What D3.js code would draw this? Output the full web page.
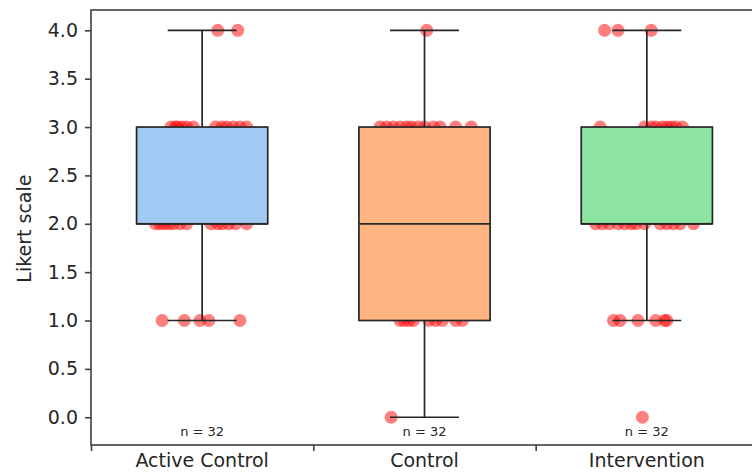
<!DOCTYPE html>
<html>
<head>
<meta charset="utf-8">
<script src="https://cdnjs.cloudflare.com/ajax/libs/d3/7.8.5/d3.min.js"></script>
<style>
  body { margin: 0; background: #fff; }
  svg text { font-family: "DejaVu Sans", sans-serif; fill: #262626; }
</style>
</head>
<body>
<div id="chart"></div>
<script>
// categories and box colours
var groups = ["Active Control", "Control", "Intervention"];
var boxColors = ["#a1c9f4", "#ffb482", "#8de5a1"];

// Likert responses per group (n = 32 each)
var activeControl = [4, 4,
  3, 3, 3, 3, 3, 3, 3, 3, 3, 3, 3, 3,
  2, 2, 2, 2, 2, 2, 2, 2, 2, 2, 2, 2, 2,
  1, 1, 1, 1, 1];
var control = [4,
  3, 3, 3, 3, 3, 3, 3, 3, 3, 3, 3, 3,
  2, 2, 2, 2, 2, 2, 2, 2, 2,
  1, 1, 1, 1, 1, 1, 1, 1, 1,
  0];
var intervention = [4, 4, 4,
  3, 3, 3, 3, 3, 3, 3, 3, 3,
  2, 2, 2, 2, 2, 2, 2, 2, 2, 2, 2, 2, 2,
  1, 1, 1, 1, 1, 1,
  0];

// horizontal strip jitter (in category units)
var activeJitter = [0.07, 0.16,
  -0.14, -0.12, -0.11, -0.09, -0.07, -0.04, 0.06, 0.09, 0.11, 0.14, 0.17, 0.20,
  -0.21, -0.19, -0.17, -0.15, -0.13, -0.10, -0.07, 0.04, 0.07, 0.09, 0.12, 0.15, 0.20,
  -0.18, -0.08, -0.01, 0.03, 0.17];
var controlJitter = [0.01,
  -0.20, -0.17, -0.14, -0.11, -0.08, -0.06, -0.03, 0.00, 0.04, 0.07, 0.14, 0.21,
  -0.18, -0.12, -0.08, -0.03, 0.02, 0.06, 0.10, 0.15, 0.19,
  -0.11, -0.09, -0.07, -0.05, 0.02, 0.05, 0.08, 0.14, 0.17,
  -0.15];
var interventionJitter = [-0.19, -0.13, 0.02,
  -0.21, -0.01, 0.02, 0.04, 0.07, 0.09, 0.11, 0.13, 0.16,
  -0.23, -0.20, -0.17, -0.13, -0.10, -0.07, -0.05, -0.01, 0.06, 0.09, 0.12, 0.15, 0.21,
  -0.15, -0.12, -0.04, 0.04, 0.08, 0.09,
  -0.02];

var yTicks = [0, 0.5, 1, 1.5, 2, 2.5, 3, 3.5, 4];

var allValues = [activeControl, control, intervention];
var allJitter = [activeJitter, controlJitter, interventionJitter];

var width = 752, height = 472;
var margin = {left: 91, top: 10, right: -6, bottom: 27};

var svg = d3.select("#chart").append("svg")
  .attr("width", width)
  .attr("height", height);

var x = d3.scaleLinear()
  .domain([-0.5, 2.5])
  .range([margin.left, width - margin.right]);
var y = d3.scaleLinear()
  .domain([-0.287, 4.21])
  .range([height - margin.bottom, margin.top]);

var boxWidth = 0.59;
var capWidth = 0.31;

// box statistics (matplotlib style: 1.5 IQR whiskers)
var stats = allValues.map(function(vals, i) {
  var s = vals.slice().sort(d3.ascending);
  var q1 = d3.quantile(s, 0.25), med = d3.quantile(s, 0.5), q3 = d3.quantile(s, 0.75);
  var iqr = q3 - q1;
  var lo = d3.min(s.filter(function(v) { return v >= q1 - 1.5 * iqr; }));
  var hi = d3.max(s.filter(function(v) { return v <= q3 + 1.5 * iqr; }));
  return {i: i, q1: q1, med: med, q3: q3, lo: lo, hi: hi, n: vals.length};
});

// points (behind boxes)
var points = [];
allValues.forEach(function(vals, i) {
  vals.forEach(function(v, j) {
    points.push({i: i, v: v, dx: allJitter[i][j]});
  });
});

svg.append("g").selectAll("circle")
  .data(points)
  .enter().append("circle")
  .attr("cx", function(d) { return x(d.i + d.dx); })
  .attr("cy", function(d) { return y(d.v); })
  .attr("r", 6.5)
  .style("fill", "red")
  .style("opacity", 0.5);

var lineColor = "#262626";
var box = svg.append("g").selectAll("g")
  .data(stats)
  .enter().append("g");

// whiskers
box.append("line")
  .attr("x1", function(d) { return x(d.i); })
  .attr("x2", function(d) { return x(d.i); })
  .attr("y1", function(d) { return y(d.q3); })
  .attr("y2", function(d) { return y(d.hi); })
  .style("stroke", lineColor).style("stroke-width", 1.7);
box.append("line")
  .attr("x1", function(d) { return x(d.i); })
  .attr("x2", function(d) { return x(d.i); })
  .attr("y1", function(d) { return y(d.q1); })
  .attr("y2", function(d) { return y(d.lo); })
  .style("stroke", lineColor).style("stroke-width", 1.7);
// caps
["hi", "lo"].forEach(function(k) {
  box.append("line")
    .attr("x1", function(d) { return x(d.i - capWidth / 2); })
    .attr("x2", function(d) { return x(d.i + capWidth / 2); })
    .attr("y1", function(d) { return y(d[k]); })
    .attr("y2", function(d) { return y(d[k]); })
    .style("stroke", lineColor).style("stroke-width", 1.7);
});
// boxes
box.append("rect")
  .attr("x", function(d) { return x(d.i - boxWidth / 2); })
  .attr("width", function(d) { return x(boxWidth) - x(0); })
  .attr("y", function(d) { return y(d.q3); })
  .attr("height", function(d) { return y(d.q1) - y(d.q3); })
  .style("fill", function(d) { return boxColors[d.i]; })
  .style("stroke", lineColor).style("stroke-width", 1.7);
// medians
box.append("line")
  .attr("x1", function(d) { return x(d.i - boxWidth / 2); })
  .attr("x2", function(d) { return x(d.i + boxWidth / 2); })
  .attr("y1", function(d) { return y(d.med); })
  .attr("y2", function(d) { return y(d.med); })
  .style("stroke", lineColor).style("stroke-width", 1.7);

// n labels
box.append("text")
  .attr("x", function(d) { return x(d.i); })
  .attr("y", y(-0.19))
  .attr("text-anchor", "middle")
  .style("font-size", "13px")
  .text(function(d) { return "n = " + d.n; });

// frame
svg.append("rect")
  .attr("x", margin.left)
  .attr("y", margin.top)
  .attr("width", x.range()[1] - margin.left)
  .attr("height", y.range()[0] - margin.top)
  .style("fill", "none")
  .style("stroke", "#404040")
  .style("stroke-width", 1.6);

// y axis
var yAxis = svg.append("g")
  .attr("transform", "translate(" + margin.left + ",0)")
  .call(d3.axisLeft(y).tickValues(yTicks).tickFormat(d3.format(".1f")).tickSize(6).tickPadding(7));
yAxis.select(".domain").remove();
yAxis.selectAll(".tick line").style("stroke", "#404040").style("stroke-width", 1.6);
yAxis.selectAll(".tick text").style("font-size", "19px").style("fill", "#262626")
  .style("font-family", "DejaVu Sans, sans-serif");

// x axis: ticks at category boundaries, labels at centres
var xAxis = svg.append("g")
  .attr("transform", "translate(0," + y.range()[0] + ")")
  .call(d3.axisBottom(x).tickValues([-0.5, 0.5, 1.5, 2.5]).tickFormat("").tickSize(6));
xAxis.select(".domain").remove();
xAxis.selectAll(".tick line").style("stroke", "#404040").style("stroke-width", 1.6);

svg.append("g").selectAll("text")
  .data(groups)
  .enter().append("text")
  .attr("x", function(d, i) { return x(i); })
  .attr("y", y.range()[0] + 22)
  .attr("text-anchor", "middle")
  .style("font-size", "19px")
  .text(function(d) { return d; });

svg.append("text")
  .attr("transform", "translate(31," + y(1.95) + ") rotate(-90)")
  .attr("text-anchor", "middle")
  .style("font-size", "19px")
  .text("Likert scale");
</script>
</body>
</html>
